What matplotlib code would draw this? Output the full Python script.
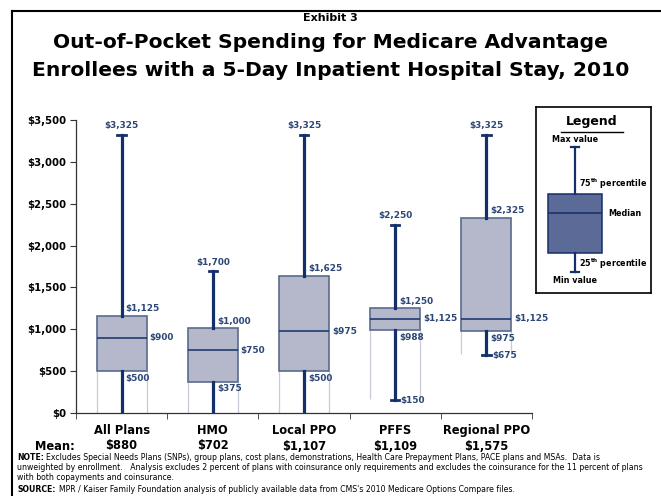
import matplotlib
matplotlib.use("Agg")
import matplotlib.pyplot as plt
from matplotlib.lines import Line2D

plans = ["All Plans", "HMO", "Local PPO", "PFFS", "Regional PPO"]
means = ["$880", "$702", "$1,107", "$1,109", "$1,575"]
mins = [0, 0, 0, 150, 690]
q1s = [500, 375, 500, 988, 975]
medians = [900, 750, 975, 1125, 1125]
q3s = [1160, 1010, 1635, 1250, 2330]
maxs = [3325, 1700, 3325, 2250, 3325]
bases = [0, 0, 0, 170, 700]   # faint guide lines under the boxes

max_labels = ["$3,325", "$1,700", "$3,325", "$2,250", "$3,325"]
q3_labels = ["$1,125", "$1,000", "$1,625", "$1,250", "$2,325"]
med_labels = ["$900", "$750", "$975", "$1,125", "$1,125"]
q1_labels = ["$500", "$375", "$500", "$988", "$975"]
min_labels = [None, None, None, "$150", "$675"]

navy = "#13306a"
lab_col = "#2b4677"
box_fill = "#b4b8ca"
box_edge = "#5a6b8d"

W, H = 661, 496
fig = plt.figure(figsize=(W / 100, H / 100), dpi=100)


def fx(px):
    return px / W


def fy(py):
    return 1 - py / H


ax = fig.add_axes([fx(76), fy(413), fx(532 - 76), (413 - 120) / H])
pos = list(range(1, len(plans) + 1))
bw = 0.55

for p, b, lo in zip(pos, bases, q1s):
    ax.vlines([p - bw / 2, p + bw / 2], b, lo, color="#c9ccd8", lw=0.9, zorder=1)

stats = []
for lo, a, m, c, hi in zip(mins, q1s, medians, q3s, maxs):
    stats.append(dict(whislo=lo, q1=a, med=m, q3=c, whishi=hi, fliers=[]))

bp = ax.bxp(stats, positions=pos, widths=bw, patch_artist=True, showfliers=False,
            capwidths=0.09,
            boxprops=dict(facecolor=box_fill, edgecolor=box_edge, linewidth=1.2),
            whiskerprops=dict(color=navy, linewidth=2.3),
            capprops=dict(color=navy, linewidth=2),
            medianprops=dict(color=navy, linewidth=1.1))
# no cap where the whisker runs down to the axis
for i, lo in enumerate(mins):
    if lo == 0:
        bp["caps"][2 * i].set_visible(False)

lab = dict(fontsize=6.4, fontweight="bold", color=lab_col, textcoords="offset points")
for i, p in enumerate(pos):
    ax.annotate(max_labels[i], (p, maxs[i]), xytext=(0, 3), ha="center", va="bottom", **lab)
    ax.annotate(q3_labels[i], (p, q3s[i]), xytext=(3, 2), ha="left", va="bottom", **lab)
    ax.annotate(med_labels[i], (p + bw / 2, medians[i]), xytext=(2, 0), ha="left", va="center", **lab)
    ax.annotate(q1_labels[i], (p, q1s[i]), xytext=(3, -2), ha="left", va="top", **lab)
    if min_labels[i]:
        ax.annotate(min_labels[i], (p, mins[i]), xytext=(4, 0), ha="left", va="center", **lab)

ax.set_xlim(0.5, len(plans) + 0.5)
ax.set_ylim(0, 3500)
ax.set_yticks(range(0, 3501, 500))
ax.set_yticklabels([f"${v:,}" for v in range(0, 3501, 500)], fontsize=7.3, fontweight="bold")
ax.set_xticks(pos)
ax.set_xticklabels(plans, fontsize=8.3, fontweight="bold")
ax.set_xticks([p - 0.5 for p in pos] + [pos[-1] + 0.5], minor=True)
ax.tick_params(axis="x", which="major", length=0, pad=8)
ax.tick_params(axis="x", which="minor", length=4, direction="out", color="#333333")
ax.tick_params(axis="y", length=4, direction="out", color="#333333", pad=3)
for s in ["top", "right"]:
    ax.spines[s].set_visible(False)
for s in ["left", "bottom"]:
    ax.spines[s].set_color("#333333")
    ax.spines[s].set_linewidth(0.9)
ax.patch.set_alpha(0)

# mean row
fig.text(fx(35), fy(446), "Mean:", fontsize=8.3, fontweight="bold", va="center")
for p, m in zip(pos, means):
    fig.text(fx(76 + (p - 0.5) * (532 - 76) / 5), fy(446), m, fontsize=8.3,
             fontweight="bold", ha="center", va="center")

# titles
fig.text(0.5, fy(18), "Exhibit 3", fontsize=8, fontweight="bold", ha="center", va="center")
fig.text(0.5, fy(42), "Out-of-Pocket Spending for Medicare Advantage",
         fontsize=14.6, fontweight="bold", ha="center", va="center")
fig.text(0.5, fy(71), "Enrollees with a 5-Day Inpatient Hospital Stay, 2010",
         fontsize=14.6, fontweight="bold", ha="center", va="center")

# frame on top and left
fig.add_artist(Line2D([fx(12), 1], [fy(11), fy(11)], color="black", lw=1.5))
fig.add_artist(Line2D([fx(12), fx(12)], [fy(11), 0], color="black", lw=1.5))

# legend panel
lg = fig.add_axes([fx(536), fy(293), fx(651 - 536), (293 - 107) / H])
lg.bxp([dict(whislo=0.113, q1=0.215, med=0.43, q3=0.532, whishi=0.787, fliers=[])],
       positions=[0.339], widths=0.478, patch_artist=True, showfliers=False,
       capwidths=0.07,
       boxprops=dict(facecolor="#5b6a97", edgecolor=navy, linewidth=1.1),
       whiskerprops=dict(color=navy, linewidth=1.6),
       capprops=dict(color=navy, linewidth=1.6),
       medianprops=dict(color=navy, linewidth=1.1))
lg.set_xlim(0, 1)
lg.set_ylim(0, 1)
lg.set_xticks([])
lg.set_yticks([])
for s in lg.spines.values():
    s.set_linewidth(1.2)
lt = dict(fontsize=5.8, fontweight="bold")
lg.text(0.487, 0.92, "Legend", fontsize=9, fontweight="bold", ha="center", va="center")
lg.plot([0.22, 0.755], [0.865, 0.865], color="black", lw=1)
lg.text(0.339, 0.823, "Max value", ha="center", va="center", **lt)
lg.text(0.37, 0.586, r"75$^{\bf th}$ percentile", ha="left", va="center", **lt)
lg.text(0.626, 0.43, "Median", ha="left", va="center", **lt)
lg.text(0.37, 0.156, r"25$^{\bf th}$ percentile", ha="left", va="center", **lt)
lg.text(0.339, 0.065, "Min value", ha="center", va="center", **lt)

# notes
nf = ["Liberation Sans Narrow", "DejaVu Sans"]
x0 = 17
r = fig.canvas.get_renderer()
t1 = fig.text(fx(x0), fy(457), "NOTE:", family=nf, fontsize=5.6, fontweight="bold", va="center")
w1 = t1.get_window_extent(r).width
fig.text(fx(x0 + w1 + 2), fy(457),
         "Excludes Special Needs Plans (SNPs), group plans, cost plans, demonstrations, Health Care "
         "Prepayment Plans, PACE plans and MSAs.  Data is",
         family=nf, fontsize=5.6, va="center")
fig.text(fx(x0), fy(468),
         "unweighted by enrollment.   Analysis excludes 2 percent of plans with coinsurance only "
         "requirements and excludes the coinsurance for the 11 percent of plans",
         family=nf, fontsize=5.6, va="center")
fig.text(fx(x0), fy(478), "with both copayments and coinsurance.", family=nf, fontsize=5.6, va="center")
t2 = fig.text(fx(x0), fy(489), "SOURCE:", family=nf, fontsize=5.6, fontweight="bold", va="center")
w2 = t2.get_window_extent(r).width
fig.text(fx(x0 + w2 + 4), fy(489),
         "MPR / Kaiser Family Foundation analysis of publicly available data from CMS's 2010 "
         "Medicare Options Compare files.",
         family=nf, fontsize=5.6, va="center")

fig.savefig("out.png", dpi=100)
